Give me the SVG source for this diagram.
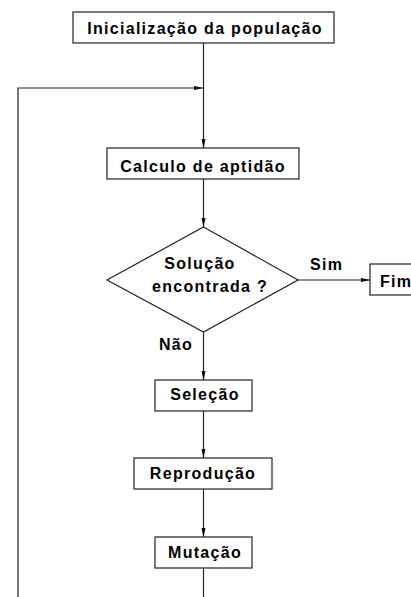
<svg xmlns="http://www.w3.org/2000/svg" width="411" height="597" viewBox="0 0 411 597">
<style>
.box{fill:#fff;stroke:#222;stroke-width:1.2}
.t{font-family:"Liberation Sans",Arial,sans-serif;font-weight:bold;font-size:16px;letter-spacing:1.3px;fill:#000}
.c{text-anchor:middle}
.ln{fill:none;stroke:#222;stroke-width:1.2}
</style>
<defs>
<marker id="ah" markerUnits="userSpaceOnUse" markerWidth="10" markerHeight="6" refX="9" refY="3" orient="auto">
<path d="M0,1 L9,3 L0,5 Z" fill="#000"/>
</marker>
</defs>
<rect width="411" height="597" fill="#fff"/>
<g id="connectors">
<line class="ln" x1="203.5" y1="43" x2="203.5" y2="148" marker-end="url(#ah)"/>
<polyline class="ln" points="18,597 18,88 203,88" marker-end="url(#ah)"/>
<line class="ln" x1="203.5" y1="179" x2="203.5" y2="227" marker-end="url(#ah)"/>
<line class="ln" x1="298" y1="280" x2="370" y2="280" marker-end="url(#ah)"/>
<line class="ln" x1="203.5" y1="332" x2="203.5" y2="380" marker-end="url(#ah)"/>
<line class="ln" x1="203.5" y1="411" x2="203.5" y2="458" marker-end="url(#ah)"/>
<line class="ln" x1="203.5" y1="489" x2="203.5" y2="537" marker-end="url(#ah)"/>
<line class="ln" x1="203.5" y1="568" x2="203.5" y2="597"/>
<text class="t" x="310" y="270">Sim</text>
<text class="t" x="159" y="350">Não</text>
</g>
<g id="init">
<rect class="box" x="73" y="12" width="261" height="31"/>
<text class="t c" x="205" y="33.5">Inicialização da população</text>
</g>
<g id="calc">
<rect class="box" x="107" y="148" width="192" height="31"/>
<text class="t c" x="203" y="172">Calculo de aptidão</text>
</g>
<g id="decisao">
<polygon class="box" points="203.5,227 298,280 203.5,332 107,280"/>
<text class="t c" x="200" y="269">Solução</text>
<text class="t c" x="210" y="292">encontrada ?</text>
</g>
<g id="fim">
<rect class="box" x="370" y="264" width="50" height="31"/>
<text class="t" x="380" y="287">Fim</text>
</g>
<g id="selecao">
<rect class="box" x="155" y="380" width="97" height="31"/>
<text class="t c" x="205" y="400">Seleção</text>
</g>
<g id="reproducao">
<rect class="box" x="134" y="458" width="138" height="31"/>
<text class="t c" x="203" y="479">Reprodução</text>
</g>
<g id="mutacao">
<rect class="box" x="155" y="537" width="97" height="31"/>
<text class="t c" x="205" y="558">Mutação</text>
</g>
</svg>
